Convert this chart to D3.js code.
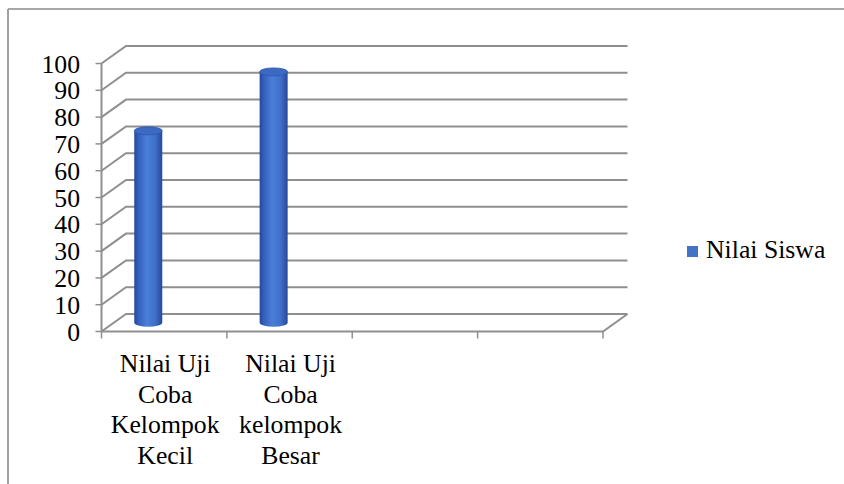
<!DOCTYPE html>
<html><head><meta charset="utf-8">
<script src="https://cdn.jsdelivr.net/npm/d3@7"></script>
<style>
html,body{margin:0;padding:0;background:#fff;}
svg{display:block;}
text{font-family:"Liberation Serif","Times New Roman",serif;}
</style></head>
<body><svg id="c" width="844" height="484"></svg>
<script>
const categories = ["Nilai Uji Coba Kelompok Kecil", "Nilai Uji Coba kelompok Besar", "", ""];
const seriesName = "Nilai Siswa";
const values = [71.6, 93.6];
const yTicks = [0,10,20,30,40,50,60,70,80,90,100];

const svg = d3.select("#c");
const fs = 25, sx = 1.03;
const depth = {dx: 24.5, dy: -17.5};
const x = d3.scaleBand().domain(d3.range(categories.length)).range([101.5, 603]).padding(0);
const y = d3.scaleLinear().domain([0, 100]).range([331.5, 63.5]);
const grid = "#8f8f8f";

// outer border (partially visible)
svg.append("line").attr("x1",8).attr("y1",9).attr("x2",844).attr("y2",9).attr("stroke","#8a8a8a").attr("stroke-width",1.5);
svg.append("line").attr("x1",8).attr("y1",9).attr("x2",8).attr("y2",484).attr("stroke","#a0a0a0").attr("stroke-width",2);

const x0 = x.range()[0], x1 = x.range()[1];
const g = svg.append("g");
yTicks.forEach(t => {
  const yf = y(t);
  g.append("path")
    .attr("d", `M${x0},${yf}L${x0+depth.dx},${yf+depth.dy}L${x1+depth.dx},${yf+depth.dy}`)
    .attr("fill","none").attr("stroke",grid).attr("stroke-width",2);
});
g.append("path")
  .attr("d", `M${x0},${y(0)}L${x1},${y(0)}L${x1+depth.dx},${y(0)+depth.dy}`)
  .attr("fill","none").attr("stroke",grid).attr("stroke-width",2);
g.append("line").attr("x1",x0).attr("x2",x0).attr("y1",y(100)).attr("y2",y(0)).attr("stroke",grid).attr("stroke-width",2);
yTicks.forEach(t => {
  g.append("line").attr("x1",x0-6).attr("x2",x0).attr("y1",y(t)).attr("y2",y(t)).attr("stroke",grid).attr("stroke-width",1.5);
  svg.append("text").attr("transform",`translate(80,${y(t)+9}) scale(${sx},1)`)
    .attr("text-anchor","end").attr("font-size",fs).attr("fill","#000").text(t);
});
d3.range(categories.length+1).forEach(i => {
  const xx = x0 + i*x.bandwidth();
  g.append("line").attr("x1",xx).attr("x2",xx).attr("y1",y(0)).attr("y2",y(0)+7).attr("stroke",grid).attr("stroke-width",1.5);
});

categories.forEach((c,i) => {
  if (!c) return;
  const cx = x(i) + x.bandwidth()/2 + 1;
  const words = c.split(" ");
  const lines = [];
  let cur = "";
  const tmp = svg.append("text").attr("font-size",fs);
  words.forEach(w => {
    const test = cur ? cur + " " + w : w;
    tmp.text(test);
    if (tmp.node().getComputedTextLength()*sx > x.bandwidth()-8 && cur) { lines.push(cur); cur = w; }
    else cur = test;
  });
  lines.push(cur);
  tmp.remove();
  lines.forEach((l,k) => {
    svg.append("text").attr("transform",`translate(${cx},${372 + k*30.5}) scale(${sx},1)`)
      .attr("text-anchor","middle").attr("font-size",fs).attr("fill","#000").text(l);
  });
});

const defs = svg.append("defs");
const grad = defs.append("linearGradient").attr("id","cyl").attr("x1","0").attr("x2","1").attr("y1","0").attr("y2","0");
[[0,"#24489a"],[0.15,"#3560bb"],[0.45,"#4a7fd9"],[0.75,"#3f6fc9"],[1,"#27489a"]].forEach(s =>
  grad.append("stop").attr("offset",s[0]).attr("stop-color",s[1]));
const ym = v => y(v) + depth.dy/2;
const rx = 14, ry = 4;
values.forEach((v,i) => {
  const cx = x(i) + x.bandwidth()*0.373;
  const yt = ym(v), yb = ym(0);
  svg.append("path")
    .attr("d", `M${cx-rx},${yt}L${cx-rx},${yb}A${rx},${ry} 0 0 0 ${cx+rx},${yb}L${cx+rx},${yt}Z`)
    .attr("fill","url(#cyl)");
  svg.append("ellipse").attr("cx",cx).attr("cy",yt).attr("rx",rx).attr("ry",ry)
    .attr("fill","#3c69c3").attr("stroke","#2f58ab").attr("stroke-width",0.8);
});

svg.append("rect").attr("x",687).attr("y",246).attr("width",11).attr("height",11).attr("fill","#4472c4");
svg.append("text").attr("transform",`translate(706,258) scale(${sx},1)`).attr("font-size",fs).attr("fill","#000").text(seriesName);
</script></body></html>
